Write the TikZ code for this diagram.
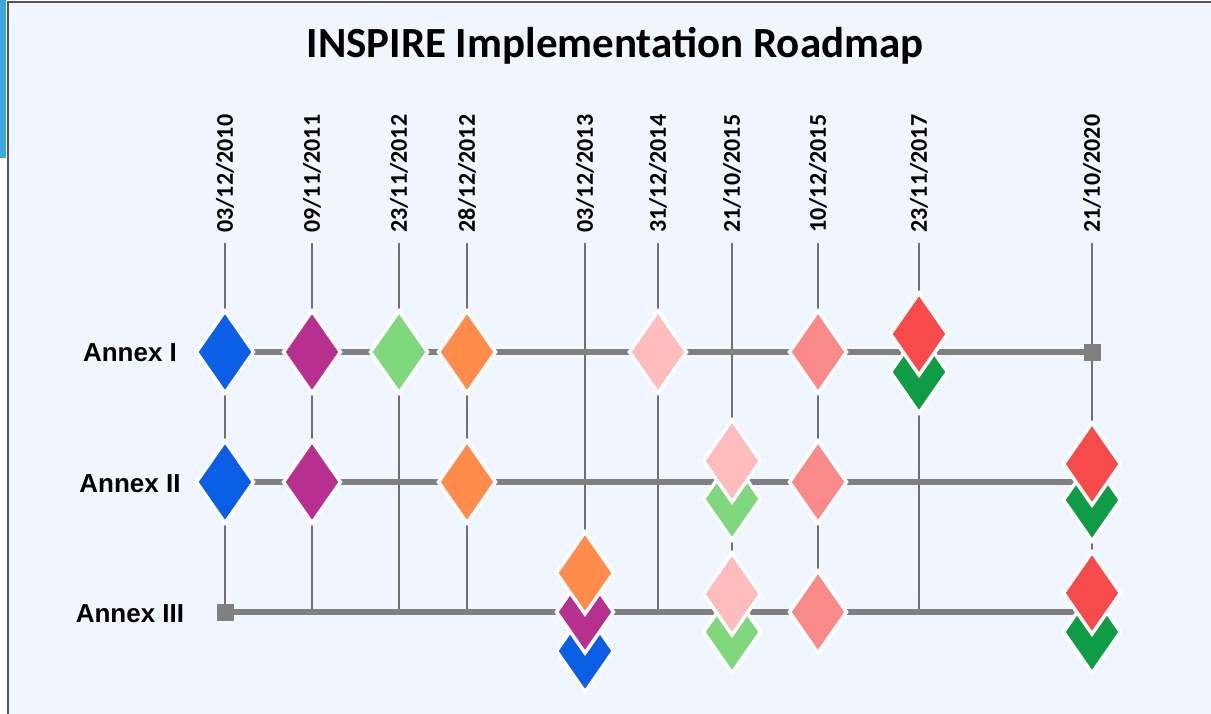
\documentclass[tikz,border=0pt]{standalone}
\usepackage{fontspec}
\setmainfont{Carlito}
\newfontfamily\labfont{Liberation Sans}
\usetikzlibrary{shapes.geometric}
\definecolor{bg}{HTML}{EFF6FD}
\definecolor{strip}{HTML}{3BA9E0}
\definecolor{frame}{HTML}{555555}
\definecolor{hline}{HTML}{808080}
\definecolor{vline}{HTML}{707070}
\definecolor{cblue}{HTML}{0A5FE6}
\definecolor{cmag}{HTML}{B8308F}
\definecolor{clgreen}{HTML}{80D87C}
\definecolor{corange}{HTML}{FF8C4A}
\definecolor{clpink}{HTML}{FFBCBC}
\definecolor{csalmon}{HTML}{FA8A8A}
\definecolor{cred}{HTML}{F74B4B}
\definecolor{cdgreen}{HTML}{0E9D45}
\begin{document}
\begin{tikzpicture}[x=1pt,y=-1pt,
 mk/.style={diamond, draw=white, line width=3.5pt, inner sep=0pt, outer sep=0pt, minimum width=57pt, minimum height=82pt, fill=#1},
 sq/.style={rectangle, fill=hline, minimum size=17pt, inner sep=0pt},
 hl/.style={draw=hline, line width=6pt},
 vl/.style={draw=vline, line width=2pt},
 datelab/.style={rotate=90, anchor=west, inner sep=0pt, font=\fontsize{24}{28}\selectfont\bfseries},
 annex/.style={anchor=base, inner sep=0pt, font=\labfont\fontsize{26}{30}\selectfont\bfseries},
 titlestyle/.style={anchor=base, inner sep=0pt, font=\fontsize{43}{50}\selectfont\bfseries}
]
\useasboundingbox (0,0) rectangle (1211,714);
\fill[white] (0,0) rectangle (1211,714);
\fill[bg] (8,2) rectangle (1211,714);
\fill[strip] (0,0) rectangle (6,158);
\draw[frame, line width=2.5pt] (8,714) -- (8,2) -- (1211,2);

\node[titlestyle] (title) at (615,58) {INSPIRE Implementation Roadmap};

% columns
\foreach \i/\x/\d in {1/225/03\slash 12\slash 2010, 2/312/09\slash 11\slash 2011, 3/399/23\slash 11\slash 2012, 4/467/28\slash 12\slash 2012, 5/585/03\slash 12\slash 2013, 6/658/31\slash 12\slash 2014, 7/732/21\slash 10\slash 2015, 8/818/10\slash 12\slash 2015, 9/919/23\slash 11\slash 2017, 10/1092/21\slash 10\slash 2020}{
  \coordinate (top\i) at (\x,243);
  \coordinate (bot\i) at (\x,612);
  \draw[vl] (top\i) -- (bot\i);
  \node[datelab] (d\i) at (\x,233) {\d};
}

% rows
\coordinate (r1s) at (225,352); \coordinate (r1e) at (1092,352);
\coordinate (r2s) at (225,482); \coordinate (r2e) at (1092,482);
\coordinate (r3s) at (225,612); \coordinate (r3e) at (1092,612);
\draw[hl] (r1s) -- (r1e);
\draw[hl] (r2s) -- (r2e);
\draw[hl] (r3s) -- (r3e);

\node[annex] (lab1) at (130,361.5) {Annex I};
\node[annex] (lab2) at (130,492) {Annex II};
\node[annex] (lab3) at (130,622) {Annex III};

% Annex I
\node[mk=cblue] (m11) at (225,352) {};
\node[mk=cmag] (m12) at (312,352) {};
\node[mk=clgreen] (m13) at (399,352) {};
\node[mk=corange] (m14) at (467,352) {};
\node[mk=clpink] (m16) at (658,352) {};
\node[mk=csalmon] (m18) at (818,352) {};
\node[mk=cdgreen] (m19b) at (919,372) {};
\node[mk=cred] (m19a) at (919,334) {};
\node[sq] (s1) at (1092,352) {};

% Annex II
\node[mk=cblue] (m21) at (225,482) {};
\node[mk=cmag] (m22) at (312,482) {};
\node[mk=corange] (m24) at (467,482) {};
\node[mk=clgreen] (m27b) at (732,499) {};
\node[mk=clpink] (m27a) at (732,461) {};
\node[mk=csalmon] (m28) at (818,482) {};
\node[mk=cdgreen] (m210b) at (1092,500) {};
\node[mk=cred] (m210a) at (1092,464) {};

% Annex III
\node[sq] (s3) at (225,612) {};
\node[mk=cblue] (m35c) at (585,651) {};
\node[mk=cmag] (m35b) at (585,612) {};
\node[mk=corange] (m35a) at (585,573) {};
\node[mk=clgreen] (m37b) at (732,632) {};
\node[mk=clpink] (m37a) at (732,594) {};
\node[mk=csalmon] (m38) at (818,612) {};
\node[mk=cdgreen] (m310b) at (1092,632) {};
\node[mk=cred] (m310a) at (1092,593) {};
\end{tikzpicture}
\end{document}
